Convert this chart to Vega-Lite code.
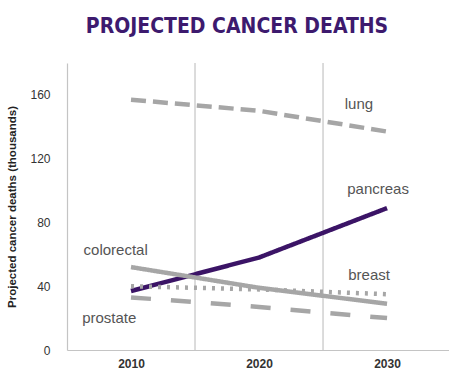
{
  "$schema": "https://vega.github.io/schema/vega-lite/v6.json",
  "autosize": {"type": "none"},
  "padding": {"left": 67, "top": 63, "right": 0, "bottom": 28},
  "width": 382,
  "height": 287,
  "background": "white",
  "title": {
    "text": "PROJECTED CANCER DEATHS",
    "font": "DejaVu Sans Condensed, Liberation Sans, sans-serif",
    "fontWeight": "bold",
    "fontSize": 21,
    "color": "#3d1a6e",
    "anchor": "middle",
    "dx": -21,
    "offset": 25
  },
  "datasets": {
    "series": [
      {"year": 2010, "deaths": 157, "cancer": "lung"},
      {"year": 2020, "deaths": 150, "cancer": "lung"},
      {"year": 2030, "deaths": 137, "cancer": "lung"},
      {"year": 2010, "deaths": 37, "cancer": "pancreas"},
      {"year": 2020, "deaths": 58, "cancer": "pancreas"},
      {"year": 2030, "deaths": 89, "cancer": "pancreas"},
      {"year": 2010, "deaths": 52, "cancer": "colorectal"},
      {"year": 2020, "deaths": 39, "cancer": "colorectal"},
      {"year": 2030, "deaths": 29, "cancer": "colorectal"},
      {"year": 2010, "deaths": 40, "cancer": "breast"},
      {"year": 2020, "deaths": 38, "cancer": "breast"},
      {"year": 2030, "deaths": 35, "cancer": "breast"},
      {"year": 2010, "deaths": 33, "cancer": "prostate"},
      {"year": 2020, "deaths": 27, "cancer": "prostate"},
      {"year": 2030, "deaths": 20, "cancer": "prostate"}
    ],
    "labels": [
      {"year": 2027.8, "deaths": 154, "label": "lung"},
      {"year": 2029.3, "deaths": 101, "label": "pancreas"},
      {"year": 2008.8, "deaths": 63, "label": "colorectal"},
      {"year": 2028.6, "deaths": 47, "label": "breast"},
      {"year": 2008.3, "deaths": 20, "label": "prostate"}
    ],
    "grid": [{"year": 2015}, {"year": 2025}]
  },
  "layer": [
    {
      "data": {"name": "grid"},
      "mark": {"type": "rule", "color": "#c4c4c4", "strokeWidth": 1.2},
      "encoding": {
        "x": {"field": "year", "type": "quantitative", "scale": {"domain": [2005, 2034.84], "nice": false, "zero": false}}
      }
    },
    {
      "data": {"name": "series"},
      "mark": {"type": "line", "strokeWidth": 4.5, "strokeCap": "butt"},
      "encoding": {
        "x": {
          "field": "year", "type": "quantitative",
          "scale": {"domain": [2005, 2034.84], "nice": false, "zero": false},
          "axis": {
            "values": [2010, 2020, 2030], "format": "d", "title": null,
            "grid": false, "ticks": false, "domainColor": "#c4c4c4", "domainWidth": 1.2,
            "labelFont": "Liberation Sans", "labelFontSize": 12, "labelFontWeight": "bold",
            "labelColor": "#333333", "labelPadding": 8
          }
        },
        "y": {
          "field": "deaths", "type": "quantitative",
          "scale": {"domain": [0, 180], "nice": false},
          "axis": {
            "values": [0, 40, 80, 120, 160], "grid": false, "ticks": false,
            "domainColor": "#c4c4c4", "domainWidth": 1.2,
            "labelFont": "Liberation Sans", "labelFontSize": 12, "labelColor": "#333333",
            "labelPadding": 17,
            "title": "Projected cancer deaths (thousands)",
            "titleFont": "Liberation Sans", "titleFontSize": 11.5, "titleFontWeight": "bold",
            "titleColor": "#222222", "titlePadding": 12
          }
        },
        "color": {
          "field": "cancer", "type": "nominal",
          "scale": {"domain": ["lung", "pancreas", "colorectal", "breast", "prostate"],
                    "range": ["#a6a6a6", "#3b1466", "#a6a6a6", "#a6a6a6", "#a6a6a6"]},
          "legend": null
        },
        "strokeDash": {
          "field": "cancer", "type": "nominal",
          "scale": {"domain": ["lung", "pancreas", "colorectal", "breast", "prostate"],
                    "range": [[15, 7], [1, 0], [1, 0], [3, 6], [20, 20]]},
          "legend": null
        }
      }
    },
    {
      "data": {"name": "labels"},
      "mark": {"type": "text", "font": "Liberation Sans", "fontSize": 15, "color": "#555555", "align": "center", "baseline": "middle"},
      "encoding": {
        "x": {"field": "year", "type": "quantitative"},
        "y": {"field": "deaths", "type": "quantitative"},
        "text": {"field": "label"}
      }
    }
  ],
  "config": {"view": {"stroke": null}}
}
